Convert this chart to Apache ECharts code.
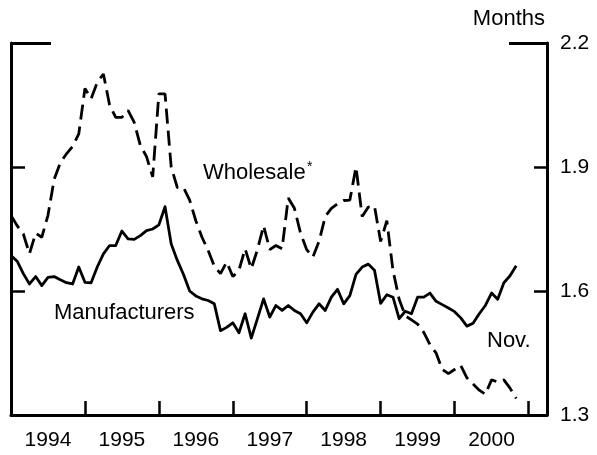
<!DOCTYPE html>
<html>
<head>
<meta charset="utf-8">
<script src="https://cdn.jsdelivr.net/npm/echarts@6/dist/echarts.min.js"></script>
<style>
    html, body { margin: 0; padding: 0; background: #fff; }
    #box1 { width: 597px; height: 455px; }
</style>
</head>
<body>
<div id="box1"></div>
<script>
// 数据 (monthly, Jan 1994 = index 0, through Nov 2000)
var yearLabels = ["1994", "1995", "1996", "1997", "1998", "1999", "2000"]
var yTicks = [1.3, 1.6, 1.9, 2.2]

var manufacturers = [
    1.686, 1.672, 1.642, 1.617, 1.635, 1.613, 1.633, 1.635, 1.627, 1.620, 1.617, 1.658,
    1.621, 1.620, 1.658, 1.690, 1.710, 1.710, 1.745, 1.726, 1.725, 1.734, 1.746, 1.750,
    1.760, 1.804, 1.714, 1.674, 1.640, 1.600, 1.588, 1.581, 1.577, 1.569, 1.504, 1.512,
    1.523, 1.499, 1.545, 1.486, 1.533, 1.581, 1.537, 1.565, 1.553, 1.565, 1.553, 1.545,
    1.523, 1.549, 1.569, 1.553, 1.585, 1.604, 1.569, 1.589, 1.640, 1.658, 1.665, 1.650,
    1.570, 1.591, 1.585, 1.533, 1.551, 1.545, 1.585, 1.585, 1.595, 1.575, 1.567, 1.559,
    1.550, 1.535, 1.515, 1.522, 1.545, 1.565, 1.595, 1.580, 1.620, 1.637, 1.661
]

var wholesale = [
    1.783, 1.758, 1.738, 1.690, 1.740, 1.730, 1.783, 1.870, 1.910, 1.932, 1.950, 1.980,
    2.090, 2.065, 2.105, 2.125, 2.050, 2.020, 2.020, 2.037, 2.008, 1.952, 1.925, 1.876,
    2.077, 2.077, 1.900, 1.850, 1.850, 1.820, 1.770, 1.730, 1.698, 1.660, 1.642, 1.670,
    1.635, 1.650, 1.702, 1.654, 1.700, 1.758, 1.700, 1.710, 1.702, 1.825, 1.800, 1.740,
    1.700, 1.682, 1.720, 1.780, 1.800, 1.811, 1.819, 1.820, 1.900, 1.780, 1.803, 1.805,
    1.720, 1.770, 1.650, 1.580, 1.540, 1.530, 1.520, 1.500, 1.470, 1.450, 1.410, 1.400,
    1.410, 1.420, 1.390, 1.375, 1.360, 1.350, 1.385, 1.380, 1.385, 1.365, 1.340
]

function toPairs(arr) {
    return arr.map(function (v, i) { return [i, v] })
}

var font = "Liberation Sans, Arial, Helvetica, sans-serif"

var MyEcharts1 = echarts.init(document.getElementById("box1"), null, { renderer: "canvas" })

// y axis helper
function yAx(pos, showLabel, interval, tickLen) {
    return {
        type: "value",
        position: pos,
        offset: 0,
        min: yTicks[0],
        max: yTicks[yTicks.length - 1],
        interval: interval,
        axisLine: { show: tickLen < 20, onZero: false, lineStyle: { color: "#000", width: 3 } },
        axisTick: { show: true, inside: true, length: tickLen, lineStyle: { color: "#000", width: tickLen < 20 ? 2.5 : 3 } },
        axisLabel: {
            show: showLabel,
            margin: 13,
            color: "#000",
            fontSize: 21,
            fontFamily: font,
            formatter: function (v) { return v.toFixed(1) }
        },
        splitLine: { show: false }
    }
}

var option1 = {
    animation: false,
    backgroundColor: "#fff",
    grid: { left: 11, right: 50, top: 43, bottom: 40, outerBoundsMode: "none" },

    xAxis: [
        // year boundary ticks
        {
            type: "value",
            position: "bottom",
            min: 0,
            max: 87,
            interval: 12,
            axisLine: { show: true, onZero: false, lineStyle: { color: "#000", width: 3 } },
            axisTick: { show: true, inside: true, length: 14, lineStyle: { color: "#000", width: 2.5 } },
            axisLabel: { show: false },
            splitLine: { show: false }
        },
        // year labels at mid-year
        {
            type: "value",
            position: "bottom",
            offset: 0,
            min: 0,
            max: 87,
            interval: 6,
            axisLine: { show: false, onZero: false },
            axisTick: { show: false },
            axisLabel: {
                show: true,
                margin: 15,
                color: "#000",
                fontSize: 21,
                fontFamily: font,
                formatter: function (v) {
                    if (v % 12 !== 6) return ""
                    return yearLabels[(v - 6) / 12] || ""
                }
            },
            splitLine: { show: false }
        }
    ],

    yAxis: [
        yAx("left", false, 0.3, 14),
        yAx("right", true, 0.3, 13),
        // long top corner ticks
        yAx("left", false, 0.9, 40),
        yAx("right", false, 0.9, 38)
    ],

    series: [
        {
            name: "Manufacturers",
            type: "line",
            xAxisIndex: 0,
            yAxisIndex: 0,
            data: toPairs(manufacturers),
            showSymbol: false,
            lineStyle: { color: "#000", width: 2.8, join: "round" }
        },
        {
            name: "Wholesale",
            type: "line",
            xAxisIndex: 0,
            yAxisIndex: 0,
            data: toPairs(wholesale),
            showSymbol: false,
            lineStyle: { color: "#000", width: 2.8, type: [15, 7] }
        }
    ],

    graphic: [
        { type: "text", right: 52, top: 8, style: { text: "Months", fill: "#000", font: "22px " + font } },
        { type: "text", left: 203, top: 162, style: { text: "Wholesale", fill: "#000", font: "22px " + font } },
        { type: "text", left: 307, top: 160, style: { text: "*", fill: "#000", font: "14px " + font } },
        { type: "text", left: 54, top: 302, style: { text: "Manufacturers", fill: "#000", font: "22px " + font } },
        { type: "text", left: 487, top: 330, style: { text: "Nov.", fill: "#000", font: "22px " + font } }
    ]
}

MyEcharts1.setOption(option1)
</script>
</body>
</html>
